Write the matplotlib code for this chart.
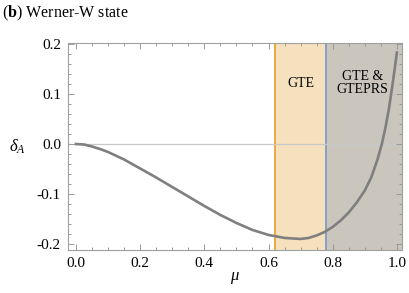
import numpy as np
import matplotlib
matplotlib.use("Agg")
import matplotlib.pyplot as plt
from matplotlib.ticker import MultipleLocator, FormatStrFormatter

# curve
mu = [0.0, 0.025, 0.05, 0.075, 0.1, 0.15, 0.2, 0.25, 0.3, 0.35, 0.4, 0.45,
      0.5, 0.55, 0.6, 0.65, 0.7, 0.725, 0.75, 0.775, 0.8, 0.825, 0.85,
      0.875, 0.9, 0.92, 0.94, 0.953, 0.965, 0.975, 0.985, 0.993, 1.0]
delta_a = [0.0, -0.001, -0.005, -0.010, -0.016, -0.031, -0.049, -0.067,
           -0.086, -0.105, -0.124, -0.142, -0.158, -0.172, -0.182, -0.188,
           -0.19, -0.188, -0.183, -0.176, -0.166, -0.153, -0.137, -0.117,
           -0.093, -0.067, -0.030, 0.0, 0.035, 0.07, 0.113, 0.15, 0.183]

# region boundaries
gte_start = 0.62
gteprs_start = 0.78
region_labels = ["GTE", "GTE &\nGTEPRS"]

plt.rcParams['font.family'] = ['Liberation Serif', 'DejaVu Serif']
plt.rcParams['mathtext.fontset'] = 'custom'
plt.rcParams['mathtext.rm'] = 'Liberation Serif'
plt.rcParams['mathtext.it'] = 'Liberation Serif:italic'
plt.rcParams['mathtext.bf'] = 'Liberation Serif:bold'

fig = plt.figure(figsize=(4.09, 2.93), dpi=100)
ax = fig.add_axes([0.166, 0.147, 0.817, 0.706])

xmin, xmax = -0.025, 1.016
ymin, ymax = -0.212, 0.202

ax.axvspan(gte_start, gteprs_start, color='#f5e1bd', lw=0, zorder=0)
ax.axvspan(gteprs_start, xmax, color='#cac6bd', lw=0, zorder=0)
ax.axvline(gte_start, color='#eaa236', lw=1.3, zorder=1)
ax.axvline(gteprs_start, color='#7f9cc6', lw=1.3, zorder=1)
ax.axhline(0, color='#c8c8c8', lw=0.9, zorder=1)

ax.plot(mu, delta_a, color='#7f7f7f', lw=1.9, zorder=3,
        solid_joinstyle='round')

ax.text((gte_start + gteprs_start) / 2, 0.122, region_labels[0],
        ha='center', va='center', fontsize=10)
ax.text(0.893, 0.122, region_labels[1], ha='center', va='center',
        fontsize=10, linespacing=0.95)

ax.set_xlim(xmin, xmax)
ax.set_ylim(ymin, ymax)
ax.xaxis.set_major_locator(MultipleLocator(0.2))
ax.xaxis.set_minor_locator(MultipleLocator(0.05))
ax.yaxis.set_major_locator(MultipleLocator(0.1))
ax.yaxis.set_minor_locator(MultipleLocator(0.02))
ax.xaxis.set_major_formatter(FormatStrFormatter('%.1f'))
ax.yaxis.set_major_formatter(FormatStrFormatter('%.1f'))

ax.tick_params(which='both', direction='in', top=True, right=True,
               color='#999999', labelsize=11, width=0.7)
ax.tick_params(which='major', length=4, pad=5)
ax.tick_params(which='minor', length=2)
for s in ax.spines.values():
    s.set_color('#a0a0a0')
    s.set_linewidth(0.8)

ax.set_xlabel(r'$\mu$', fontsize=12, labelpad=0)
ax.set_ylabel(r'$\delta_A$', fontsize=12, rotation=0, labelpad=14, va='center')

fig.text(0.005, 0.955, r'($\mathbf{b}$) Werner-W state', fontsize=11.5,
         ha='left', va='center')

fig.savefig('out.png', dpi=100)
